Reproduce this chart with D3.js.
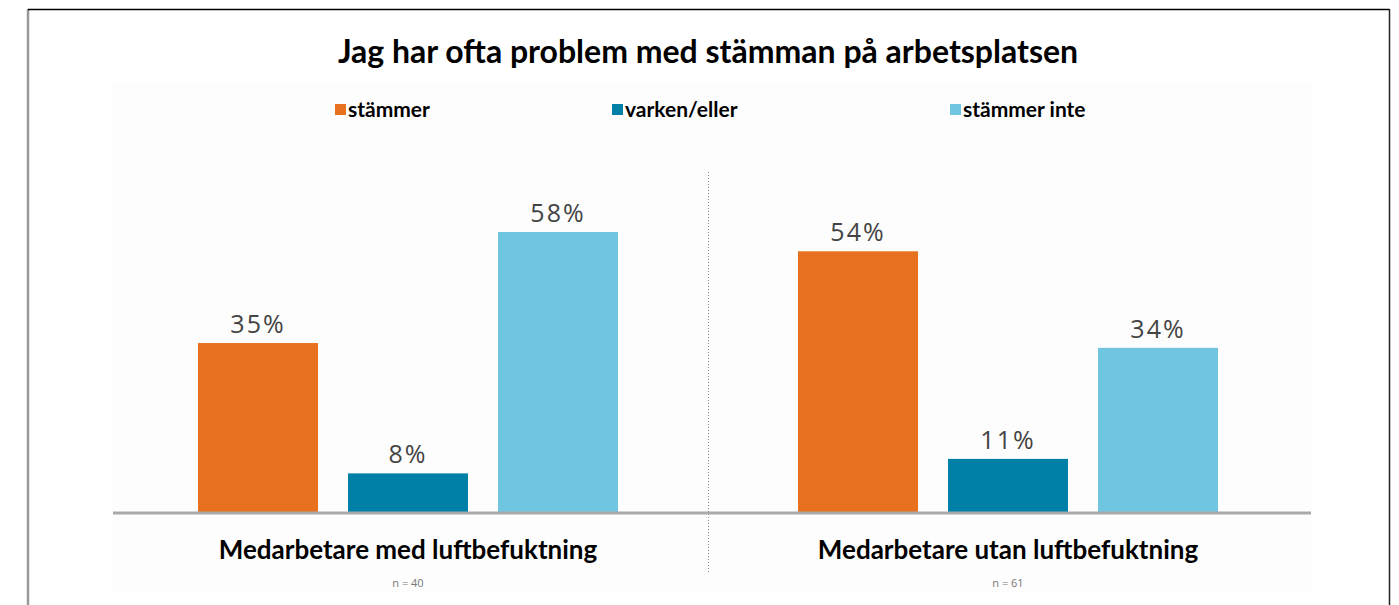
<!DOCTYPE html>
<html>
<head>
<meta charset="utf-8">
<script src="https://cdn.jsdelivr.net/npm/d3@7"></script>
<style>
  body { margin: 0; background: #fff; }
  svg { display: block; }
</style>
</head>
<body>
<script>
let title = "Jag har ofta problem med stämman på arbetsplatsen";
let groups = ["Medarbetare med luftbefuktning", "Medarbetare utan luftbefuktning"];
let groupN = ["n = 40", "n = 61"];
let series = ["stämmer", "varken/eller", "stämmer inte"];
let colors = ["#e8711f", "#0080a6", "#70c6e1"];
let withHumid = [35, 8, 58];
let withoutHumid = [54, 11, 34];
let values = [withHumid, withoutHumid];

let width = 1399;
let height = 605;
let baseY = 512;

let svg = d3
  .select("body")
  .append("svg")
  .attr("width", width)
  .attr("height", height);

// frame
svg.append("line").attr("x1", 28).attr("x2", 28).attr("y1", 9).attr("y2", height)
  .attr("stroke", "#999").attr("stroke-width", 2.5);
svg.append("line").attr("x1", 28).attr("x2", 1389.5).attr("y1", 9.5).attr("y2", 9.5)
  .attr("stroke", "#000").attr("stroke-width", 1.5);
svg.append("line").attr("x1", 1389.5).attr("x2", 1389.5).attr("y1", 9).attr("y2", height)
  .attr("stroke", "#222").attr("stroke-width", 1.5);

// faint chart background
svg.append("rect").attr("x", 113).attr("y", 82).attr("width", 1198).attr("height", 510)
  .attr("fill", "#fdfdfd");

let xGroup = d3.scaleBand().domain(d3.range(groups.length)).range([108, 1308]);
let xBar = d3
  .scaleBand()
  .domain(d3.range(series.length))
  .range([0, xGroup.bandwidth()])
  .paddingInner(0.2)
  .paddingOuter(0.6);
let yScale = d3.scaleLinear().domain([0, 58]).range([baseY, 232]);

svg.append("text")
  .attr("x", 708)
  .attr("y", 63)
  .attr("text-anchor", "middle")
  .attr("font-family", "Lato")
  .attr("font-weight", "bold")
  .attr("font-size", 32)
  .attr("fill", "#000")
  .text(title);

// legend
let legendX = [335, 612, 950];
let legend = svg.selectAll("g.legend")
  .data(series)
  .enter()
  .append("g")
  .attr("class", "legend")
  .attr("transform", (d, i) => `translate(${legendX[i]},0)`);
legend.append("rect")
  .attr("x", 0).attr("y", 104).attr("width", 11).attr("height", 11)
  .attr("fill", (d, i) => colors[i]);
legend.append("text")
  .attr("x", 13).attr("y", 117)
  .attr("font-family", "Lato").attr("font-weight", "bold").attr("font-size", 21)
  .attr("fill", "#000")
  .text((d) => d);

// divider
svg.append("line")
  .attr("x1", 708.5).attr("x2", 708.5).attr("y1", 172).attr("y2", 572)
  .attr("stroke", "#888").attr("stroke-width", 1).attr("stroke-dasharray", "1,2");

let g = svg.selectAll("g.group")
  .data(values)
  .enter()
  .append("g")
  .attr("class", "group")
  .attr("transform", (d, i) => `translate(${xGroup(i)},0)`);

g.selectAll("rect")
  .data((d) => d)
  .enter()
  .append("rect")
  .attr("x", (d, i) => xBar(i))
  .attr("y", (d) => yScale(d))
  .attr("width", xBar.bandwidth())
  .attr("height", (d) => baseY - yScale(d))
  .attr("fill", (d, i) => colors[i]);

g.selectAll("text.val")
  .data((d) => d)
  .enter()
  .append("text")
  .attr("class", "val")
  .attr("x", (d, i) => xBar(i) + xBar.bandwidth() / 2)
  .attr("y", (d) => yScale(d) - 10)
  .attr("text-anchor", "middle")
  .attr("font-family", "Open Sans")
  .attr("font-size", 25)
  .attr("letter-spacing", 2)
  .attr("fill", "#444")
  .text((d) => d + "%");

// baseline
svg.append("line").attr("x1", 113).attr("x2", 1311).attr("y1", baseY + 1).attr("y2", baseY + 1)
  .attr("stroke", "#aaa").attr("stroke-width", 3);

g.append("text")
  .attr("x", xGroup.bandwidth() / 2)
  .attr("y", 559)
  .attr("text-anchor", "middle")
  .attr("font-family", "Lato")
  .attr("font-weight", "bold")
  .attr("font-size", 26)
  .attr("fill", "#000")
  .text((d, i) => groups[i]);

g.append("text")
  .attr("x", xGroup.bandwidth() / 2)
  .attr("y", 587)
  .attr("text-anchor", "middle")
  .attr("font-family", "Open Sans")
  .attr("font-size", 11)
  .attr("fill", "#777")
  .text((d, i) => groupN[i]);
</script>
</body>
</html>
